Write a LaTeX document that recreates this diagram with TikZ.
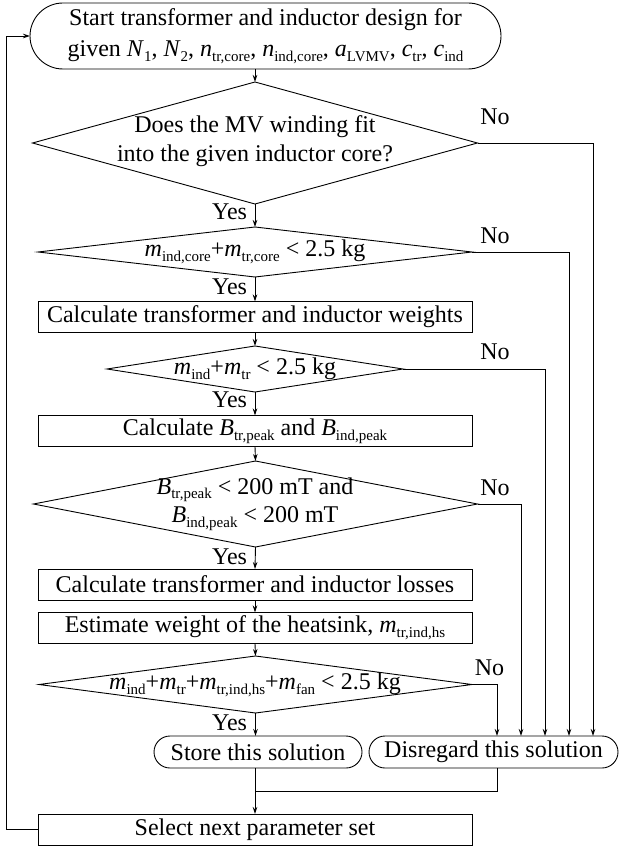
\documentclass[tikz,border=0pt]{standalone}
\usepackage{fontspec}
\setmainfont{Liberation Serif}
\usetikzlibrary{shapes.geometric,arrows.meta}
\newcommand\vr[2]{\textit{#1}\raisebox{-0.2em}{\fontsize{15}{15}\selectfont #2}}
\begin{document}
\begin{tikzpicture}[x=1pt,y=-1pt,
  every node/.style={font=\fontsize{24}{28.5}\selectfont, inner sep=0pt, outer sep=0pt},
  procbox/.style={draw, line width=0.9pt, minimum width=434pt, minimum height=31pt},
  termbox/.style={draw, line width=0.9pt, rounded corners=16pt, minimum height=32pt},
  dia/.style={draw, diamond, line width=0.9pt},
  conn/.style={line width=0.9pt, -{Stealth[length=7pt,width=4.5pt]}},
  plain/.style={line width=0.9pt}]
\useasboundingbox (0,0) rectangle (619,848);
% nodes
\node[termbox, minimum width=471pt, minimum height=66pt, rounded corners=33pt, align=center,
      font=\fontsize{24}{31}\selectfont] (start) at (265.5,36)
  {Start transformer and inductor design for\\
   given \vr{N}{1}, \vr{N}{2}, \vr{n}{tr,core}, \vr{n}{ind,core}, \vr{a}{LVMV}, \vr{c}{tr}, \vr{c}{ind}};
\node[dia, minimum width=445pt, minimum height=122pt] (d1) at (255,143) {};
\node[align=center] (t1) at (255,141) {Does the MV winding fit\\into the given inductor core?};
\node[dia, minimum width=434pt, minimum height=50pt] (d2) at (255,252) {};
\node (t2) at (255,252) {\vr{m}{ind,core}+\vr{m}{tr,core} < 2.5 kg};
\node[procbox] (b1) at (255,317) {Calculate transformer and inductor weights};
\node[dia, minimum width=296pt, minimum height=46pt] (d3) at (255,369) {};
\node (t3) at (255,369) {\vr{m}{ind}+\vr{m}{tr} < 2.5 kg};
\node[procbox] (b2) at (255,431) {Calculate \vr{B}{tr,peak} and \vr{B}{ind,peak}};
\node[dia, minimum width=444pt, minimum height=86pt] (d4) at (255.5,504) {};
\node[align=center] (t4) at (255,504) {\vr{B}{tr,peak} < 200 mT and\\\vr{B}{ind,peak} < 200 mT};
\node[procbox] (b3) at (255,584.5) {Calculate transformer and inductor losses};
\node[procbox] (b4) at (255,628) {Estimate weight of the heatsink, \vr{m}{tr,ind,hs}};
\node[dia, minimum width=433pt, minimum height=57pt] (d5) at (255.5,684.5) {};
\node (t5) at (255,684.5) {\vr{m}{ind}+\vr{m}{tr}+\vr{m}{tr,ind,hs}+\vr{m}{fan} < 2.5 kg};
\node[termbox, minimum width=208pt] (sto) at (258,752) {Store this solution};
\node[termbox, minimum width=249pt] (dis) at (493.5,752) {Disregard this solution};
\node[procbox] (sel) at (255,829.5) {Select next parameter set};
% labels
\node (n1) at (495,117) {No};
\node (n2) at (495,235.5) {No};
\node (n3) at (495,351.5) {No};
\node (n4) at (495,488) {No};
\node (n5) at (489.5,668) {No};
\node[anchor=east] (y1) at (247,212) {Yes};
\node[anchor=east] (y2) at (247,287) {Yes};
\node[anchor=east] (y3) at (247,400) {Yes};
\node[anchor=east] (y4) at (247,556.5) {Yes};
\node[anchor=east] (y5) at (247,723) {Yes};
% helper coordinates
\coordinate (k1) at (593,0);
\coordinate (k2) at (569,0);
\coordinate (k3) at (545,0);
\coordinate (k4) at (521,0);
\coordinate (k5) at (497,0);
\coordinate (m) at (255,791);
\coordinate (lp) at (6,0);
% main flow
\draw[conn] (start.south -| d1.north) -- (d1.north);
\draw[conn] (d1.south) -- (d2.north);
\draw[conn] (d2.south) -- (b1.north);
\draw[conn] (b1.south) -- (d3.north);
\draw[conn] (d3.south) -- (b2.north);
\draw[conn] (b2.south) -- (d4.north);
\draw[conn] (d4.south) -- (b3.north);
\draw[conn] (b3.south) -- (b4.north);
\draw[conn] (b4.south) -- (d5.north);
\draw[conn] (d5.south) -- (d5.south |- sto.north);
% no branches
\draw[conn] (d1.east) -- (d1.east -| k1) -- (k1 |- dis.north);
\draw[conn] (d2.east) -- (d2.east -| k2) -- (k2 |- dis.north);
\draw[conn] (d3.east) -- (d3.east -| k3) -- (k3 |- dis.north);
\draw[conn] (d4.east) -- (d4.east -| k4) -- (k4 |- dis.north);
\draw[conn] (d5.east) -- (d5.east -| k5) -- (k5 |- dis.north);
% merge
\draw[plain] (m |- sto.south) -- (m);
\draw[plain] (k5 |- dis.south) -- (k5 |- m) -- (m);
\draw[conn] (m) -- (sel.north);
% loop back
\draw[conn] (sel.west) -- (sel.west -| lp) -- (start.west -| lp) -- (start.west);
\end{tikzpicture}
\end{document}
